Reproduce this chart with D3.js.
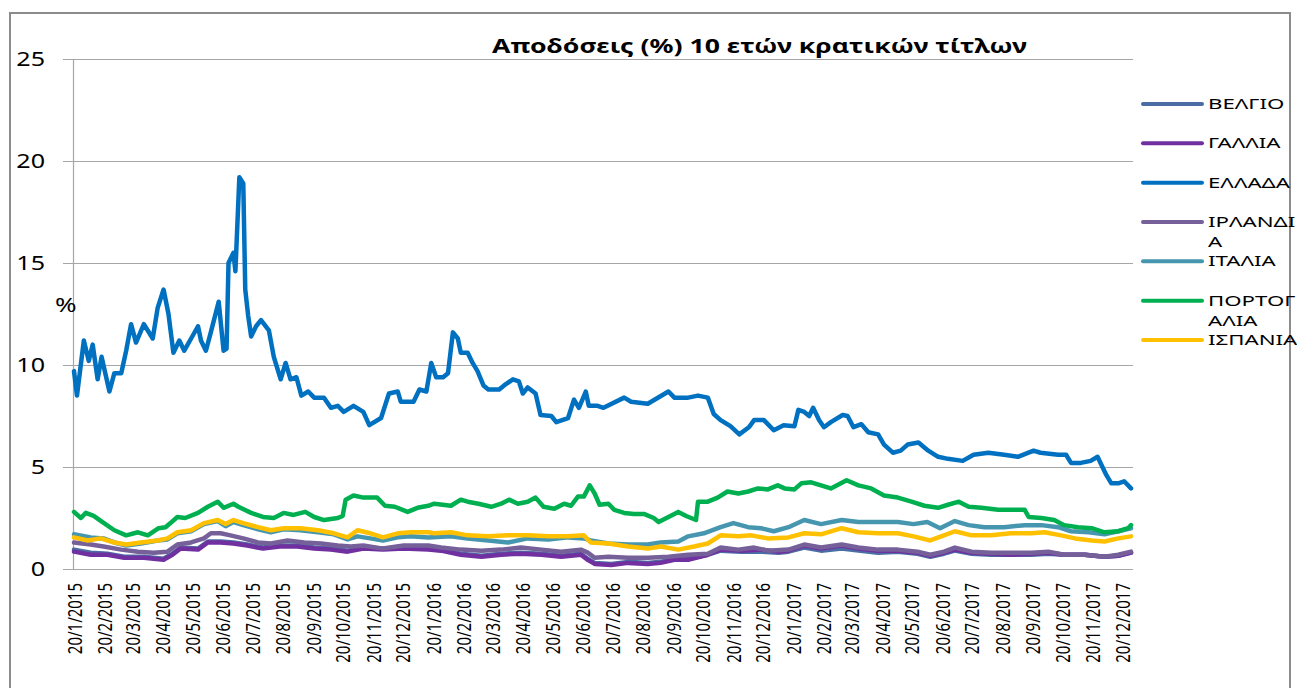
<!DOCTYPE html>
<html>
<head>
<meta charset="utf-8">
<script src="https://cdn.jsdelivr.net/npm/d3@7"></script>
<style>
  body { margin: 0; background: #fff; }
  text { font-family: "Noto Sans", "DejaVu Sans", sans-serif; fill: #000; }
</style>
</head>
<body>
<svg id="chart" width="1297" height="688"></svg>
<script>
var title = "Αποδόσεις (%) 10 ετών κρατικών τίτλων";
var yLabel = "%";
var yTicks = [0, 5, 10, 15, 20, 25];
var xTickDates = [
  "2015-01-20","2015-02-20","2015-03-20","2015-04-20","2015-05-20","2015-06-20",
  "2015-07-20","2015-08-20","2015-09-20","2015-10-20","2015-11-20","2015-12-20",
  "2016-01-20","2016-02-20","2016-03-20","2016-04-20","2016-05-20","2016-06-20",
  "2016-07-20","2016-08-20","2016-09-20","2016-10-20","2016-11-20","2016-12-20",
  "2017-01-20","2017-02-20","2017-03-20","2017-04-20","2017-05-20","2017-06-20",
  "2017-07-20","2017-08-20","2017-09-20","2017-10-20","2017-11-20","2017-12-20"
];
var names = ["ΒΕΛΓΙΟ", "ΓΑΛΛΙΑ", "ΕΛΛΑΔΑ", "ΙΡΛΑΝΔΙΑ", "ΙΤΑΛΙΑ", "ΠΟΡΤΟΓΑΛΙΑ", "ΙΣΠΑΝΙΑ"];
var legendText = [["ΒΕΛΓΙΟ"], ["ΓΑΛΛΙΑ"], ["ΕΛΛΑΔΑ"], ["ΙΡΛΑΝΔΙ", "Α"], ["ΙΤΑΛΙΑ"], ["ΠΟΡΤΟΓ", "ΑΛΙΑ"], ["ΙΣΠΑΝΙΑ"]];
var colors = ["#4a6ea3", "#7030a0", "#0070c0", "#76609a", "#4796b0", "#00b050", "#ffc000"];

var belgium = [
  ["2015-01-20",0.95],["2015-02-06",0.8],["2015-02-23",0.75],["2015-03-12",0.6],["2015-04-01",0.6],
  ["2015-04-21",0.5],["2015-04-30",0.75],["2015-05-08",1.05],["2015-05-26",1.0],["2015-06-05",1.35],
  ["2015-06-18",1.35],["2015-07-01",1.3],["2015-07-15",1.2],["2015-07-31",1.05],["2015-08-17",1.15],
  ["2015-09-04",1.15],["2015-09-21",1.05],["2015-10-08",1.0],["2015-10-25",0.9],["2015-11-10",1.05],
  ["2015-11-30",1.0],["2015-12-21",1.05],["2016-01-15",1.0],["2016-01-28",0.95],["2016-02-17",0.75],
  ["2016-03-09",0.65],["2016-03-29",0.75],["2016-04-18",0.8],["2016-05-09",0.75],["2016-05-29",0.65],
  ["2016-06-18",0.75],["2016-06-25",0.5],["2016-07-02",0.3],["2016-07-19",0.25],["2016-08-05",0.35],
  ["2016-08-25",0.3],["2016-09-07",0.35],["2016-09-21",0.5],["2016-10-05",0.5],["2016-10-25",0.7],
  ["2016-11-07",0.9],["2016-11-28",0.85],["2016-12-18",0.85],["2017-01-05",0.8],["2017-01-15",0.85],
  ["2017-01-31",1.05],["2017-02-17",0.9],["2017-03-10",1.0],["2017-03-27",0.9],["2017-04-16",0.8],
  ["2017-05-06",0.85],["2017-05-26",0.75],["2017-06-08",0.6],["2017-06-22",0.75],["2017-07-03",0.9],
  ["2017-07-20",0.75],["2017-08-09",0.7],["2017-08-29",0.7],["2017-09-19",0.7],["2017-10-06",0.75],
  ["2017-10-22",0.7],["2017-11-12",0.7],["2017-12-02",0.6],["2017-12-16",0.65],["2017-12-29",0.8]
];
var france = [
  ["2015-01-20",0.85],["2015-02-06",0.7],["2015-02-23",0.7],["2015-03-12",0.55],["2015-04-01",0.55],
  ["2015-04-21",0.45],["2015-04-30",0.7],["2015-05-08",1.0],["2015-05-26",0.95],["2015-06-05",1.3],
  ["2015-06-18",1.3],["2015-07-01",1.25],["2015-07-15",1.15],["2015-07-31",1.0],["2015-08-17",1.1],
  ["2015-09-04",1.1],["2015-09-21",1.0],["2015-10-08",0.95],["2015-10-25",0.85],["2015-11-10",1.0],
  ["2015-11-30",0.95],["2015-12-21",1.0],["2016-01-15",0.95],["2016-01-28",0.9],["2016-02-17",0.7],
  ["2016-03-09",0.6],["2016-03-29",0.7],["2016-04-18",0.75],["2016-05-09",0.7],["2016-05-29",0.6],
  ["2016-06-18",0.7],["2016-06-25",0.45],["2016-07-02",0.25],["2016-07-19",0.2],["2016-08-05",0.3],
  ["2016-08-25",0.25],["2016-09-07",0.3],["2016-09-21",0.45],["2016-10-05",0.45],["2016-10-25",0.7],
  ["2016-11-07",0.95],["2016-11-28",0.9],["2016-12-18",0.95],["2017-01-05",0.85],["2017-01-15",0.9],
  ["2017-01-31",1.15],["2017-02-17",1.0],["2017-03-10",1.15],["2017-03-27",1.0],["2017-04-16",0.9],
  ["2017-05-06",0.9],["2017-05-26",0.8],["2017-06-08",0.65],["2017-06-22",0.8],["2017-07-03",0.95],
  ["2017-07-20",0.8],["2017-08-09",0.75],["2017-08-29",0.7],["2017-09-19",0.75],["2017-10-06",0.8],
  ["2017-10-22",0.7],["2017-11-12",0.7],["2017-12-02",0.6],["2017-12-16",0.65],["2017-12-29",0.8]
];
var greece = [
  ["2015-01-20",9.7],["2015-01-23",8.5],["2015-01-30",11.2],["2015-02-04",10.2],["2015-02-08",11.0],
  ["2015-02-13",9.3],["2015-02-17",10.4],["2015-02-25",8.7],["2015-03-02",9.6],["2015-03-09",9.6],
  ["2015-03-14",10.7],["2015-03-19",12.0],["2015-03-24",11.1],["2015-04-01",12.0],["2015-04-10",11.3],
  ["2015-04-15",12.8],["2015-04-21",13.7],["2015-04-26",12.5],["2015-05-01",10.6],["2015-05-07",11.2],
  ["2015-05-12",10.7],["2015-05-19",11.3],["2015-05-26",11.9],["2015-05-29",11.2],["2015-06-03",10.7],
  ["2015-06-08",11.6],["2015-06-16",13.1],["2015-06-21",10.7],["2015-06-24",10.8],["2015-06-26",15.0],
  ["2015-07-01",15.5],["2015-07-03",14.6],["2015-07-07",19.2],["2015-07-11",18.9],["2015-07-13",13.7],
  ["2015-07-16",12.4],["2015-07-19",11.4],["2015-07-24",11.9],["2015-07-29",12.2],["2015-08-06",11.7],
  ["2015-08-11",10.4],["2015-08-18",9.3],["2015-08-23",10.1],["2015-08-28",9.3],["2015-09-03",9.4],
  ["2015-09-08",8.5],["2015-09-15",8.7],["2015-09-21",8.4],["2015-10-01",8.4],["2015-10-08",7.9],
  ["2015-10-15",8.0],["2015-10-21",7.7],["2015-10-31",8.0],["2015-11-10",7.7],["2015-11-16",7.05],
  ["2015-11-28",7.4],["2015-12-06",8.6],["2015-12-15",8.7],["2015-12-18",8.2],["2015-12-31",8.2],
  ["2016-01-06",8.8],["2016-01-13",8.7],["2016-01-18",10.1],["2016-01-23",9.4],["2016-01-30",9.4],
  ["2016-02-04",9.6],["2016-02-09",11.6],["2016-02-14",11.3],["2016-02-17",10.6],["2016-02-24",10.6],
  ["2016-02-29",10.1],["2016-03-05",9.7],["2016-03-11",9.0],["2016-03-16",8.8],["2016-03-27",8.8],
  ["2016-04-01",9.0],["2016-04-10",9.3],["2016-04-16",9.2],["2016-04-20",8.6],["2016-04-25",8.9],
  ["2016-05-03",8.6],["2016-05-08",7.55],["2016-05-19",7.5],["2016-05-24",7.2],["2016-06-05",7.4],
  ["2016-06-11",8.3],["2016-06-16",7.9],["2016-06-23",8.7],["2016-06-26",8.0],["2016-07-05",8.0],
  ["2016-07-11",7.9],["2016-08-01",8.4],["2016-08-08",8.2],["2016-08-25",8.1],["2016-09-15",8.7],
  ["2016-09-21",8.4],["2016-10-05",8.4],["2016-10-15",8.5],["2016-10-25",8.4],["2016-10-31",7.6],
  ["2016-11-07",7.3],["2016-11-17",7.0],["2016-11-26",6.6],["2016-12-06",6.96],["2016-12-11",7.3],
  ["2016-12-21",7.3],["2016-12-31",6.8],["2017-01-10",7.05],["2017-01-21",7.0],["2017-01-25",7.8],
  ["2017-01-31",7.7],["2017-02-05",7.5],["2017-02-09",7.9],["2017-02-15",7.3],["2017-02-20",6.95],
  ["2017-02-27",7.2],["2017-03-11",7.55],["2017-03-16",7.5],["2017-03-22",6.95],["2017-03-30",7.1],
  ["2017-04-06",6.7],["2017-04-16",6.6],["2017-04-22",6.1],["2017-05-01",5.7],["2017-05-09",5.8],
  ["2017-05-16",6.1],["2017-05-27",6.2],["2017-06-06",5.8],["2017-06-16",5.5],["2017-06-26",5.4],
  ["2017-07-11",5.3],["2017-07-22",5.6],["2017-08-06",5.7],["2017-08-22",5.6],["2017-09-05",5.5],
  ["2017-09-21",5.8],["2017-09-28",5.7],["2017-10-16",5.6],["2017-10-24",5.6],["2017-10-29",5.2],
  ["2017-11-08",5.2],["2017-11-18",5.3],["2017-11-25",5.5],["2017-11-28",5.2],["2017-12-04",4.6],
  ["2017-12-09",4.2],["2017-12-16",4.2],["2017-12-22",4.3],["2017-12-29",3.95]
];
var ireland = [
  ["2015-01-20",1.3],["2015-02-06",1.2],["2015-02-19",1.1],["2015-03-09",0.95],["2015-03-26",0.85],
  ["2015-04-11",0.8],["2015-04-25",0.85],["2015-05-05",1.2],["2015-05-19",1.3],["2015-06-01",1.5],
  ["2015-06-08",1.75],["2015-06-18",1.75],["2015-06-28",1.65],["2015-07-11",1.5],["2015-07-26",1.3],
  ["2015-08-08",1.25],["2015-08-25",1.4],["2015-09-11",1.3],["2015-09-28",1.25],["2015-10-15",1.15],
  ["2015-10-28",1.1],["2015-11-10",1.15],["2015-11-30",1.0],["2015-12-21",1.15],["2016-01-15",1.15],
  ["2016-01-28",1.05],["2016-02-17",0.95],["2016-03-09",0.9],["2016-03-29",0.95],["2016-04-18",1.05],
  ["2016-05-09",0.95],["2016-05-29",0.85],["2016-06-18",0.95],["2016-06-25",0.8],["2016-07-02",0.55],
  ["2016-07-16",0.6],["2016-08-05",0.55],["2016-08-25",0.55],["2016-09-15",0.6],["2016-10-05",0.7],
  ["2016-10-25",0.75],["2016-11-07",1.05],["2016-11-25",0.95],["2016-12-11",1.05],["2016-12-25",0.9],
  ["2017-01-15",0.95],["2017-01-31",1.2],["2017-02-17",1.05],["2017-03-10",1.2],["2017-03-27",1.05],
  ["2017-04-16",0.95],["2017-05-06",0.95],["2017-05-26",0.85],["2017-06-08",0.7],["2017-06-22",0.85],
  ["2017-07-03",1.05],["2017-07-20",0.85],["2017-08-09",0.8],["2017-08-29",0.8],["2017-09-19",0.8],
  ["2017-10-06",0.85],["2017-10-22",0.7],["2017-11-12",0.7],["2017-12-02",0.6],["2017-12-16",0.7],
  ["2017-12-29",0.85]
];
var italy = [
  ["2015-01-20",1.7],["2015-02-06",1.55],["2015-02-19",1.5],["2015-03-02",1.3],["2015-03-14",1.15],
  ["2015-03-29",1.25],["2015-04-15",1.4],["2015-04-25",1.45],["2015-05-05",1.75],["2015-05-19",1.85],
  ["2015-06-01",2.2],["2015-06-15",2.35],["2015-06-23",2.1],["2015-07-01",2.3],["2015-07-11",2.15],
  ["2015-07-26",1.95],["2015-08-08",1.8],["2015-08-21",1.95],["2015-09-07",1.9],["2015-09-25",1.8],
  ["2015-10-11",1.7],["2015-10-25",1.45],["2015-11-04",1.6],["2015-11-17",1.5],["2015-11-30",1.4],
  ["2015-12-15",1.55],["2015-12-28",1.6],["2016-01-15",1.55],["2016-02-07",1.6],["2016-02-24",1.5],
  ["2016-03-16",1.4],["2016-04-05",1.3],["2016-04-25",1.5],["2016-05-16",1.45],["2016-06-05",1.55],
  ["2016-06-21",1.5],["2016-06-28",1.4],["2016-07-16",1.25],["2016-08-05",1.2],["2016-08-25",1.2],
  ["2016-09-07",1.3],["2016-09-25",1.35],["2016-10-05",1.6],["2016-10-21",1.75],["2016-11-07",2.05],
  ["2016-11-20",2.25],["2016-12-05",2.05],["2016-12-18",2.0],["2016-12-31",1.85],["2017-01-15",2.05],
  ["2017-01-31",2.4],["2017-02-17",2.2],["2017-03-10",2.4],["2017-03-27",2.3],["2017-04-16",2.3],
  ["2017-05-06",2.3],["2017-05-22",2.2],["2017-06-05",2.3],["2017-06-18",2.0],["2017-07-03",2.35],
  ["2017-07-17",2.15],["2017-08-02",2.05],["2017-08-22",2.05],["2017-09-12",2.15],["2017-09-29",2.15],
  ["2017-10-16",2.05],["2017-10-29",1.85],["2017-11-16",1.8],["2017-12-02",1.7],["2017-12-16",1.85],
  ["2017-12-29",2.0]
];
var portugal = [
  ["2015-01-20",2.8],["2015-01-27",2.5],["2015-02-01",2.75],["2015-02-09",2.6],["2015-02-18",2.3],
  ["2015-03-02",1.9],["2015-03-14",1.65],["2015-03-26",1.8],["2015-04-05",1.65],["2015-04-16",2.0],
  ["2015-04-23",2.05],["2015-04-28",2.25],["2015-05-05",2.55],["2015-05-13",2.5],["2015-05-26",2.75],
  ["2015-06-05",3.05],["2015-06-15",3.3],["2015-06-21",3.0],["2015-07-01",3.2],["2015-07-06",3.05],
  ["2015-07-19",2.75],["2015-07-31",2.55],["2015-08-11",2.5],["2015-08-21",2.75],["2015-08-31",2.65],
  ["2015-09-12",2.8],["2015-09-21",2.55],["2015-10-01",2.4],["2015-10-15",2.5],["2015-10-20",2.6],
  ["2015-10-23",3.4],["2015-10-31",3.6],["2015-11-10",3.5],["2015-11-24",3.5],["2015-12-02",3.1],
  ["2015-12-12",3.05],["2015-12-25",2.8],["2016-01-04",3.0],["2016-01-15",3.1],["2016-01-21",3.2],
  ["2016-02-07",3.1],["2016-02-17",3.4],["2016-02-24",3.3],["2016-03-06",3.2],["2016-03-19",3.05],
  ["2016-03-29",3.2],["2016-04-06",3.4],["2016-04-15",3.2],["2016-04-25",3.3],["2016-05-03",3.5],
  ["2016-05-11",3.05],["2016-05-22",2.95],["2016-06-01",3.2],["2016-06-08",3.1],["2016-06-15",3.55],
  ["2016-06-21",3.55],["2016-06-27",4.1],["2016-07-02",3.7],["2016-07-07",3.15],["2016-07-16",3.2],
  ["2016-07-22",2.9],["2016-08-01",2.75],["2016-08-11",2.7],["2016-08-21",2.7],["2016-08-31",2.5],
  ["2016-09-05",2.3],["2016-09-15",2.55],["2016-09-25",2.8],["2016-10-03",2.6],["2016-10-13",2.4],
  ["2016-10-15",3.3],["2016-10-25",3.3],["2016-11-04",3.5],["2016-11-14",3.8],["2016-11-25",3.7],
  ["2016-12-05",3.8],["2016-12-15",3.95],["2016-12-25",3.9],["2017-01-04",4.1],["2017-01-11",3.95],
  ["2017-01-21",3.9],["2017-01-28",4.2],["2017-02-07",4.25],["2017-02-17",4.1],["2017-02-27",3.95],
  ["2017-03-15",4.35],["2017-03-27",4.1],["2017-04-09",3.95],["2017-04-22",3.6],["2017-05-06",3.5],
  ["2017-05-20",3.3],["2017-06-02",3.1],["2017-06-16",3.0],["2017-06-26",3.15],["2017-07-07",3.3],
  ["2017-07-17",3.05],["2017-07-30",3.0],["2017-08-16",2.9],["2017-08-29",2.9],["2017-09-12",2.9],
  ["2017-09-16",2.55],["2017-09-29",2.5],["2017-10-12",2.4],["2017-10-22",2.15],["2017-11-05",2.05],
  ["2017-11-19",2.0],["2017-12-02",1.8],["2017-12-16",1.85],["2017-12-26",2.0],["2017-12-29",2.15]
];
var spain = [
  ["2015-01-20",1.55],["2015-02-03",1.4],["2015-02-16",1.5],["2015-03-02",1.3],["2015-03-14",1.2],
  ["2015-03-29",1.3],["2015-04-15",1.4],["2015-04-25",1.5],["2015-05-05",1.8],["2015-05-19",1.9],
  ["2015-06-01",2.25],["2015-06-15",2.4],["2015-06-23",2.2],["2015-07-01",2.4],["2015-07-11",2.25],
  ["2015-07-26",2.05],["2015-08-08",1.9],["2015-08-21",2.0],["2015-09-07",2.0],["2015-09-25",1.9],
  ["2015-10-11",1.75],["2015-10-25",1.55],["2015-11-04",1.9],["2015-11-17",1.75],["2015-11-30",1.55],
  ["2015-12-15",1.75],["2015-12-28",1.8],["2016-01-15",1.8],["2016-01-21",1.75],["2016-02-07",1.8],
  ["2016-02-24",1.65],["2016-03-16",1.6],["2016-04-05",1.65],["2016-04-25",1.65],["2016-05-16",1.6],
  ["2016-06-05",1.6],["2016-06-21",1.65],["2016-06-28",1.3],["2016-07-16",1.25],["2016-08-05",1.1],
  ["2016-08-25",1.0],["2016-09-07",1.1],["2016-09-25",0.95],["2016-10-11",1.1],["2016-10-25",1.25],
  ["2016-11-07",1.65],["2016-11-25",1.6],["2016-12-08",1.65],["2016-12-25",1.5],["2017-01-15",1.55],
  ["2017-01-31",1.75],["2017-02-17",1.7],["2017-03-10",2.0],["2017-03-27",1.8],["2017-04-16",1.75],
  ["2017-05-06",1.75],["2017-05-22",1.6],["2017-06-08",1.4],["2017-06-22",1.65],["2017-07-03",1.85],
  ["2017-07-20",1.65],["2017-08-09",1.65],["2017-08-29",1.75],["2017-09-19",1.75],["2017-10-02",1.8],
  ["2017-10-19",1.65],["2017-11-02",1.5],["2017-11-19",1.4],["2017-12-02",1.35],["2017-12-16",1.5],
  ["2017-12-29",1.6]
];

var seriesData = [belgium, france, greece, ireland, italy, portugal, spain];

var parseDate = d3.timeParse("%Y-%m-%d");
var svg = d3.select("#chart");

// stretch text horizontally (the original picture is widened)
function widen(sel, k) {
    sel.each(function () {
        var w = this.getComputedTextLength();
        d3.select(this).attr("textLength", w * k).attr("lengthAdjust", "spacingAndGlyphs");
    });
}

// outer frame
svg.append("rect")
    .attr("x", 10).attr("y", 13)
    .attr("width", 1280).attr("height", 700)
    .attr("fill", "none").attr("stroke", "#8c8c8c").attr("stroke-width", 2);

var x = d3.scaleTime()
    .domain([parseDate("2015-01-20"), parseDate("2017-12-31")])
    .range([74, 1133]);
var y = d3.scaleLinear().domain([0, 25]).range([569, 59]);

// gridlines
svg.append("g").selectAll("line")
    .data(yTicks)
    .join("line")
    .attr("x1", 63).attr("x2", 1133)
    .attr("y1", function (d) { return Math.round(y(d)) + 0.5; })
    .attr("y2", function (d) { return Math.round(y(d)) + 0.5; })
    .attr("stroke", "#a6a6a6").attr("stroke-width", 1.2);

// vertical axis line
svg.append("line")
    .attr("x1", 73.5).attr("x2", 73.5)
    .attr("y1", y(25)).attr("y2", y(0))
    .attr("stroke", "#a6a6a6").attr("stroke-width", 1.2);

// y tick labels
var yAxis = svg.append("g")
    .attr("transform", "translate(45,0)")
    .call(d3.axisLeft(y).tickValues(yTicks).tickSize(0).tickPadding(0));
yAxis.select(".domain").remove();
yAxis.selectAll("text")
    .attr("font-size", 19)
    .attr("font-family", "Noto Sans")
    .attr("fill", "#222");
widen(yAxis.selectAll("text"), 1.32);

// x tick labels
var xAxis = svg.append("g")
    .attr("transform", "translate(0,569)")
    .call(d3.axisBottom(x)
        .tickValues(xTickDates.map(parseDate))
        .tickFormat(d3.timeFormat("%d/%-m/%Y"))
        .tickSize(0));
xAxis.select(".domain").remove();
xAxis.selectAll(".tick text")
    .attr("font-size", 15)
    .attr("font-family", "Noto Sans")
    .attr("fill", "#111")
    .attr("text-anchor", "end")
    .attr("x", 0).attr("y", 0)
    .attr("dy", "0.36em")
    .attr("transform", "translate(0,14) scale(1.3,1) rotate(-90)");

// y label
var pct = svg.append("text")
    .attr("x", 55).attr("y", 305)
    .attr("dy", "0.36em")
    .attr("font-size", 20)
    .text(yLabel);
widen(pct, 1.3);

// title
svg.append("text")
    .attr("x", 492).attr("y", 53)
    .attr("font-size", 19)
    .attr("font-weight", "bold")
    .attr("textLength", 535)
    .attr("lengthAdjust", "spacingAndGlyphs")
    .text(title);

// lines
var line = d3.line()
    .x(function (d) { return x(parseDate(d[0])); })
    .y(function (d) { return y(d[1]); });

svg.append("g").selectAll("path")
    .data(seriesData)
    .join("path")
    .attr("d", line)
    .attr("fill", "none")
    .attr("stroke", function (d, i) { return colors[i]; })
    .attr("stroke-width", 4.5)
    .attr("stroke-linejoin", "round")
    .attr("stroke-linecap", "round");

// legend
var legend = svg.append("g");
var rowY = d3.scaleLinear().domain([0, 6]).range([104, 340]);
names.forEach(function (name, i) {
    var yy = rowY(i);
    legend.append("line")
        .attr("x1", 1143).attr("x2", 1202)
        .attr("y1", yy).attr("y2", yy)
        .attr("stroke", colors[i]).attr("stroke-width", 4)
        .attr("stroke-linecap", "round");
    legendText[i].forEach(function (t, j) {
        legend.append("text")
            .attr("class", "leg")
            .attr("x", 1208).attr("y", yy + j * 20)
            .attr("dy", "0.36em")
            .attr("font-size", 14)
            .text(t);
    });
});
// scale legend text so that ΕΛΛΑΔΑ spans about 84px, as in the original
var refW = legend.selectAll("text.leg").filter(function () { return this.textContent === "ΕΛΛΑΔΑ"; })
    .node().getComputedTextLength();
widen(legend.selectAll("text.leg"), 82 / refW);
</script>
</body>
</html>
